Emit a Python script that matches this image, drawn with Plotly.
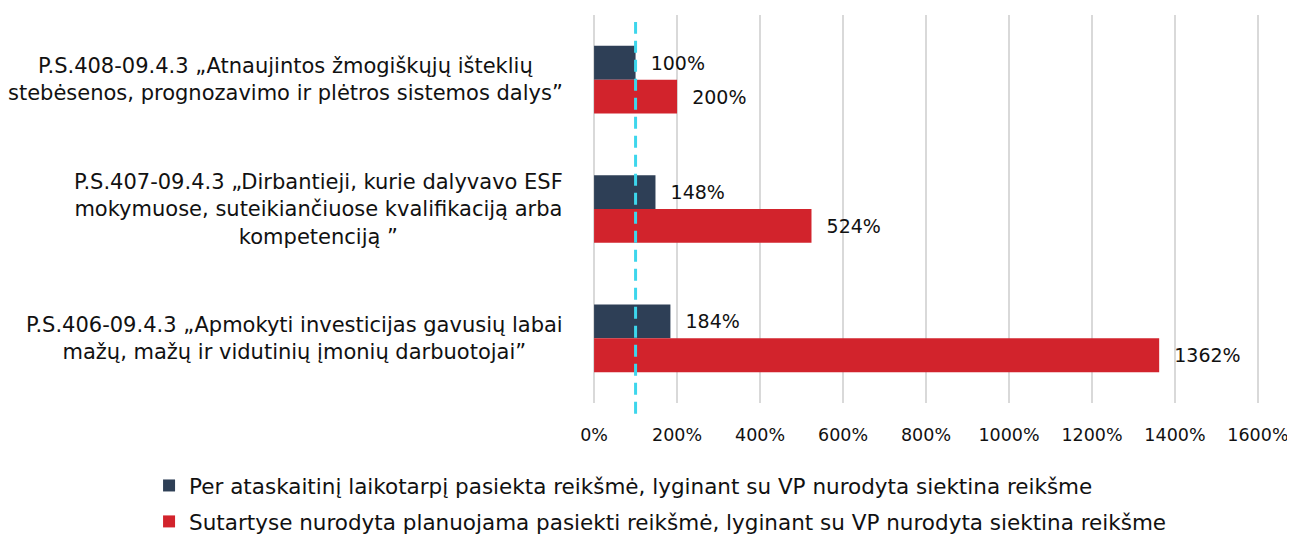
import plotly.graph_objects as go

categories = [
    "P.S.408-09.4.3 „Atnaujintos žmogiškųjų išteklių<br>stebėsenos, prognozavimo ir plėtros sistemos dalys”",
    "P.S.407-09.4.3 „Dirbantieji, kurie dalyvavo ESF<br>mokymuose, suteikiančiuose kvalifikaciją arba<br>kompetenciją ”",
    "P.S.406-09.4.3 „Apmokyti investicijas gavusių labai<br>mažų, mažų ir vidutinių įmonių darbuotojai”",
]
cat_ids = ["P.S.408", "P.S.407", "P.S.406"]
achieved = [100, 148, 184]
planned = [200, 524, 1362]
series_names = [
    "Per ataskaitinį laikotarpį pasiekta reikšmė, lyginant su VP nurodyta siektina reikšme",
    "Sutartyse nurodyta planuojama pasiekti reikšmė, lyginant su VP nurodyta siektina reikšme",
]
x_ticks = [0, 200, 400, 600, 800, 1000, 1200, 1400, 1600]
target_line = 100

FONT = "DejaVu Sans"
DARK = "#2E3F56"
RED = "#D2232C"
PAD = "\u00a0\u00a0"

fig = go.Figure()
fig.add_trace(go.Bar(
    y=cat_ids, x=achieved, orientation="h", name=series_names[0],
    marker=dict(color=DARK, line=dict(width=0)),
    text=[f"{PAD}{v}%" for v in achieved], texttemplate="%{text}",
    textposition="outside",
    textfont=dict(family=FONT, size=19, color="#111111"),
    cliponaxis=False, legendgroup="a",
))
fig.add_trace(go.Bar(
    y=cat_ids, x=planned, orientation="h", name=series_names[1],
    marker=dict(color=RED, line=dict(width=0)),
    text=[f"{PAD}{v}%" for v in planned], texttemplate="%{text}",
    textposition="outside",
    textfont=dict(family=FONT, size=19, color="#111111"),
    cliponaxis=False, legendgroup="b",
))

for cid, lab in zip(cat_ids, categories):
    fig.add_annotation(
        x=-0.04, xref="paper", y=cid, yref="y", text=lab, showarrow=False,
        xanchor="right", align="center",
        font=dict(family=FONT, size=21, color="#111111"),
    )

fig.add_shape(
    type="line", x0=target_line, x1=target_line, xref="x",
    y0=-0.028, y1=0.982, yref="paper",
    line=dict(color="#3DD6EC", width=3, dash="12px,7px"),
)

fig.update_layout(
    width=1287, height=532,
    margin=dict(l=584, r=35, t=7, b=137, autoexpand=False),
    paper_bgcolor="white", plot_bgcolor="white",
    barmode="group", bargap=0.477, bargroupgap=0,
    font=dict(family=FONT, size=17.5, color="#111111"),
    showlegend=True,
    legend=dict(
        orientation="v", xref="container", yref="container",
        x=0.1096, xanchor="left", y=0.141, yanchor="top",
        font=dict(family=FONT, size=21.5, color="#111111"),
        tracegroupgap=5, traceorder="grouped", itemwidth=30,
    ),
    xaxis=dict(
        range=[-5, 1605], tickvals=x_ticks,
        ticktext=[f"{v}%" for v in x_ticks],
        showgrid=True, gridcolor="#D9D9D9", gridwidth=2,
        zeroline=False, showline=False, ticks="",
        ticklabelstandoff=19, ticklabeloverflow="allow",
        tickfont=dict(family=FONT, size=17.5, color="#111111"),
    ),
    yaxis=dict(
        autorange="reversed", showticklabels=False, showgrid=False,
        zeroline=False, showline=False, ticks="",
    ),
)

fig.write_html("out.html")
